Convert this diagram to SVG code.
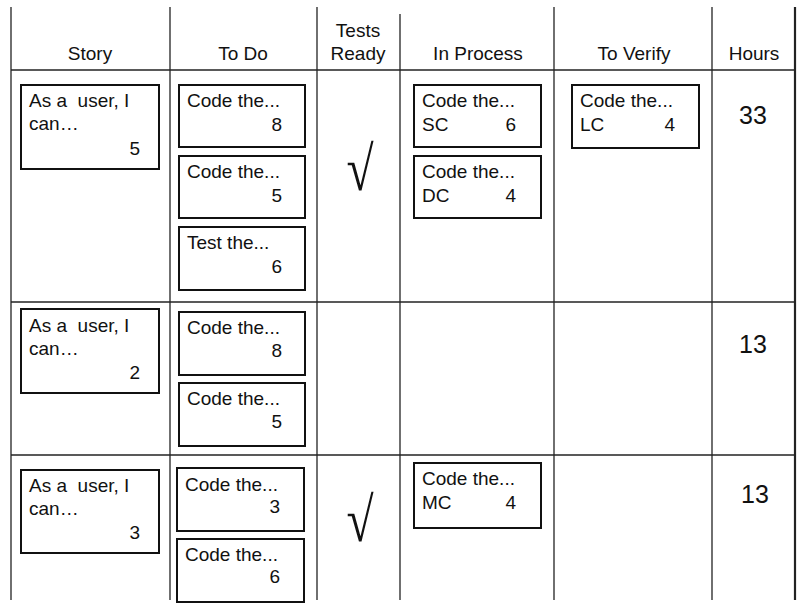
<svg xmlns="http://www.w3.org/2000/svg" width="806" height="608" viewBox="0 0 806 608">
<style>
.grid{stroke:#222;stroke-width:1.3;fill:none}
.card{fill:#fff;stroke:#111;stroke-width:2}
text{font-family:"Liberation Sans",Arial,sans-serif;fill:#111}
.h{font-size:19px;text-anchor:middle}
.t{font-size:19px}
.n{font-size:19px;text-anchor:end}
.hr{font-size:25px;text-anchor:middle}
.chk{font-family:"Liberation Serif","Times New Roman",serif;font-size:52px;text-anchor:middle}
</style>
<rect width="806" height="608" fill="#fff"/>
<g id="grid">
<line class="grid" x1="11" y1="7" x2="11" y2="600"/>
<line class="grid" x1="170" y1="7" x2="170" y2="600"/>
<line class="grid" x1="317" y1="7" x2="317" y2="600"/>
<line class="grid" x1="400" y1="14" x2="400" y2="600"/>
<line class="grid" x1="554" y1="7" x2="554" y2="600"/>
<line class="grid" x1="712" y1="7" x2="712" y2="600"/>
<line class="grid" x1="795" y1="7" x2="795" y2="600" style="stroke-width:2.2"/>
<line class="grid" x1="11" y1="70" x2="795" y2="70"/>
<line class="grid" x1="11" y1="302" x2="795" y2="302"/>
<line class="grid" x1="11" y1="455" x2="795" y2="455"/>
</g>
<g id="headers">
<text class="h" x="90" y="60">Story</text>
<text class="h" x="243" y="60">To Do</text>
<text class="h" x="358" y="37">Tests</text>
<text class="h" x="358" y="60">Ready</text>
<text class="h" x="478" y="60">In Process</text>
<text class="h" x="634" y="60">To Verify</text>
<text class="h" x="754" y="60">Hours</text>
</g>
<g id="story1"><rect class="card" x="21" y="85" width="138" height="84"/><text class="t" x="29" y="107">As a&#160; user, I</text><text class="t" x="29" y="130">can…</text><text class="n" x="140" y="155">5</text></g>
<g id="todo1a"><rect class="card" x="179" y="85" width="126" height="62"/><text class="t" x="187" y="107">Code the...</text><text class="n" x="282" y="131">8</text></g>
<g id="todo1b"><rect class="card" x="179" y="156" width="126" height="62"/><text class="t" x="187" y="178">Code the...</text><text class="n" x="282" y="202">5</text></g>
<g id="todo1c"><rect class="card" x="179" y="227" width="126" height="63"/><text class="t" x="187" y="249">Test the...</text><text class="n" x="282" y="273">6</text></g>
<g id="ready1"><text class="chk" transform="translate(360,189.5) scale(0.95,1.2)">√</text></g>
<g id="proc1a"><rect class="card" x="414" y="85" width="127" height="62"/><text class="t" x="422" y="107">Code the...</text><text class="t" x="422" y="131">SC</text><text class="n" x="516" y="131">6</text></g>
<g id="proc1b"><rect class="card" x="414" y="156" width="127" height="62"/><text class="t" x="422" y="178">Code the...</text><text class="t" x="422" y="202">DC</text><text class="n" x="516" y="202">4</text></g>
<g id="verify1"><rect class="card" x="572" y="85" width="127" height="63"/><text class="t" x="580" y="107">Code the...</text><text class="t" x="580" y="131">LC</text><text class="n" x="675" y="131">4</text></g>
<g id="hours1"><text class="hr" x="753" y="124">33</text></g>
<g id="story2"><rect class="card" x="21" y="309" width="138" height="84"/><text class="t" x="29" y="332">As a&#160; user, I</text><text class="t" x="29" y="355">can…</text><text class="n" x="140" y="379">2</text></g>
<g id="todo2a"><rect class="card" x="179" y="312" width="126" height="63"/><text class="t" x="187" y="334">Code the...</text><text class="n" x="282" y="357">8</text></g>
<g id="todo2b"><rect class="card" x="179" y="383" width="126" height="63"/><text class="t" x="187" y="405">Code the...</text><text class="n" x="282" y="428">5</text></g>
<g id="hours2"><text class="hr" x="753" y="353">13</text></g>
<g id="story3"><rect class="card" x="21" y="470" width="138" height="83"/><text class="t" x="29" y="492">As a&#160; user, I</text><text class="t" x="29" y="515">can…</text><text class="n" x="140" y="539">3</text></g>
<g id="todo3a"><rect class="card" x="177" y="468" width="127" height="63"/><text class="t" x="185" y="491">Code the...</text><text class="n" x="280" y="513">3</text></g>
<g id="todo3b"><rect class="card" x="177" y="539" width="127" height="63"/><text class="t" x="185" y="561">Code the...</text><text class="n" x="280" y="583">6</text></g>
<g id="ready3"><text class="chk" transform="translate(360,540.5) scale(0.95,1.2)">√</text></g>
<g id="proc3"><rect class="card" x="414" y="463" width="127" height="65"/><text class="t" x="422" y="485">Code the...</text><text class="t" x="422" y="509">MC</text><text class="n" x="516" y="509">4</text></g>
<g id="hours3"><text class="hr" x="755" y="503">13</text></g>
</svg>
